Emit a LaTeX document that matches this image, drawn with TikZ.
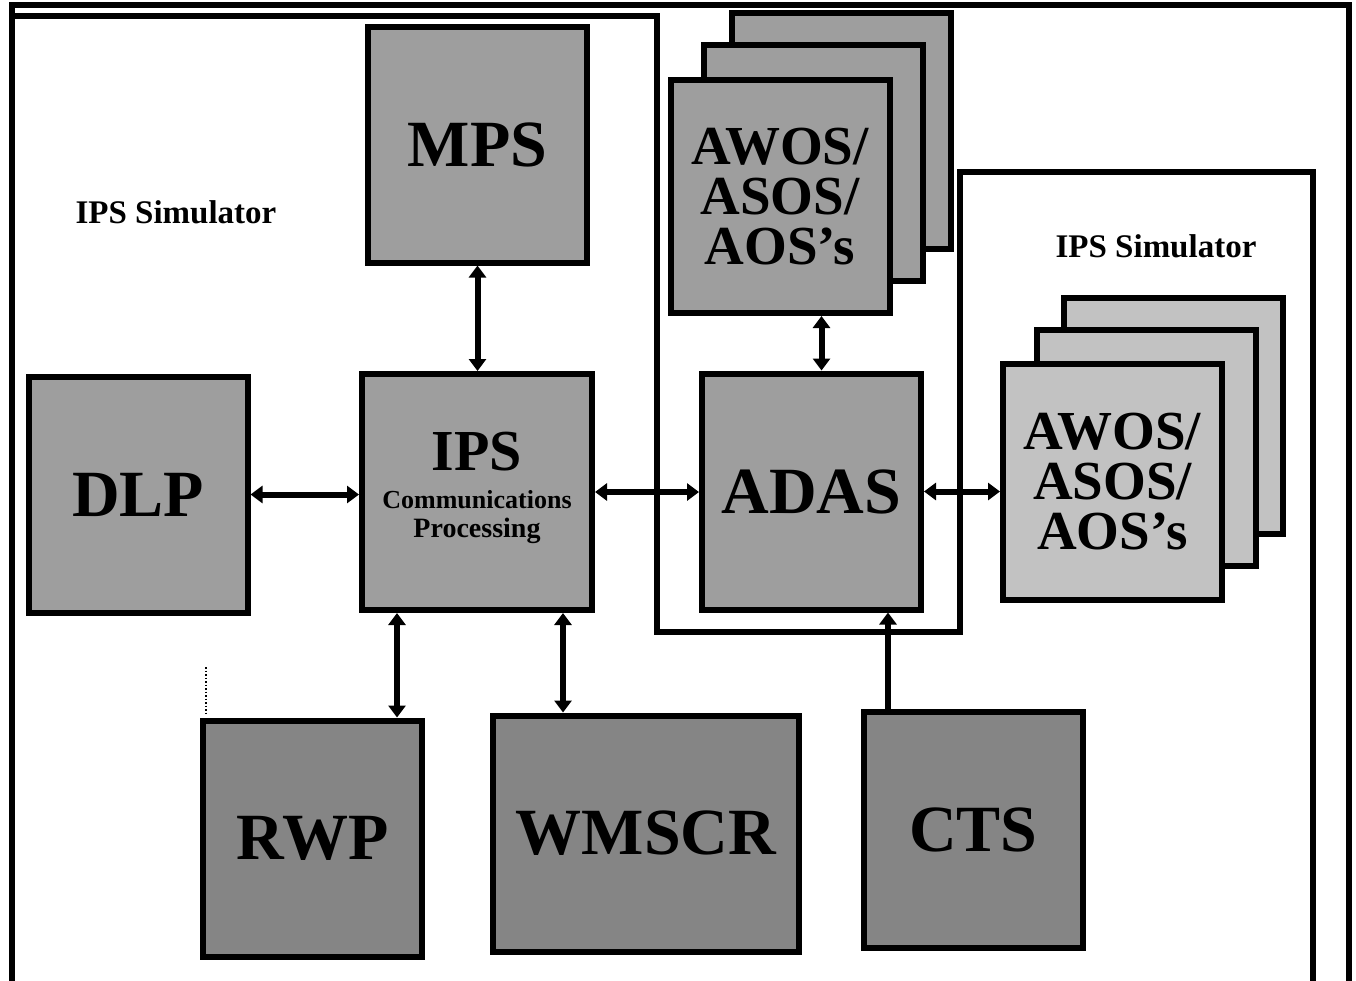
\documentclass[tikz,border=0pt]{standalone}
\usepackage{fontspec}
\setmainfont{Liberation Serif}
\usetikzlibrary{arrows.meta,calc}
\definecolor{midgray}{gray}{0.62}
\definecolor{darkgraybox}{gray}{0.52}
\definecolor{lightgraybox}{gray}{0.76}
\tikzset{
  blk/.style={draw=black, line width=6pt, inner sep=0pt, outer sep=3pt,
    minimum width=219pt, minimum height=236pt,
    font=\bfseries\fontsize{66}{66}\selectfont, align=center},
  midbox/.style={blk, fill=midgray},
  darkbox/.style={blk, fill=darkgraybox},
  lightbox/.style={blk, fill=lightgraybox},
  stacktext/.style={font=\bfseries\fontsize{55}{50}\selectfont},
  conn/.style={line width=6pt, {Triangle[length=12pt,width=17pt]}-{Triangle[length=12pt,width=17pt]}},
  conn1/.style={line width=6pt, -{Triangle[length=12pt,width=17pt]}},
  frameline/.style={line width=5.5pt, line join=miter},
  caption/.style={font=\bfseries\fontsize{33}{36}\selectfont, inner sep=0pt}
}
\begin{document}
\begin{tikzpicture}[x=1pt,y=-1pt]
\useasboundingbox (0,0) rectangle (1356,980);
\clip (0,0) rectangle (1356,980);
\fill[white] (0,0) rectangle (1356,980);
% frames
\draw[frameline] (12,5) rectangle (1349,1010);
\draw[frameline] (12,16) -- (657,16) -- (657,632) -- (960,632) -- (960,172) -- (1313,172) -- (1313,1010);
% captions
\node[caption] (capL) at (176,212) {IPS Simulator};
\node[caption] (capR) at (1156,246) {IPS Simulator};
% top row
\node[midbox] (mps) at (477.5,144.5) {MPS};
\node[midbox] (awt3) at (841,131) {};
\node[midbox] (awt2) at (813.5,162.5) {};
\node[midbox, stacktext, minimum height=233pt] (awt1) at (780,196.5) {AWOS/\\ASOS/\\AOS's};
\node[midbox] (dlp) at (138,494.5) {DLP};
\node[midbox, minimum width=230pt] (ips) at (477,492) {};
\node[font=\bfseries\fontsize{58}{58}\selectfont, anchor=base] (ipsA) at ($(ips.center)+(0,-22)$) {IPS};
\node[font=\bfseries\fontsize{26}{26}\selectfont, anchor=base] (ipsB) at ($(ips.center)+(0,16)$) {Communications};
\node[font=\bfseries\fontsize{28}{28}\selectfont, anchor=base] (ipsC) at ($(ips.center)+(0,45)$) {Processing};
\node[midbox] (adas) at (811.5,491.5) {ADAS};
% right stack
\node[lightbox] (awr3) at (1173.5,415.5) {};
\node[lightbox] (awr2) at (1146.5,447.5) {};
\node[lightbox, stacktext] (awr1) at (1112.5,481.5) {AWOS/\\ASOS/\\AOS's};
% bottom row
\node[darkbox] (rwp) at (312.5,838.5) {RWP};
\node[darkbox, minimum width=306pt] (wms) at (646,833.5) {WMSCR};
\node[darkbox] (cts) at (973.5,830) {CTS};
% connectors
\draw[conn] (dlp.east) -- (dlp.east -| ips.west);
\draw[conn] (ips.east) -- (ips.east -| adas.west);
\draw[conn] (adas.east) -- (adas.east -| awr1.west);
\draw[conn] (mps.south) -- (mps.south |- ips.north);
\draw[conn] ($(adas.north)+(10,0)$) coordinate (a1) -- (a1 |- awt1.south);
\draw[conn] ($(ips.south west)+(38,0)$) coordinate (a2) -- (a2 |- rwp.north);
\draw[conn] ($(ips.south east)+(-32,0)$) coordinate (a3) -- (a3 |- wms.north);
\draw[conn1] ($(cts.north west)+(27,0)$) coordinate (a4) -- (a4 |- adas.south);
% dotted mark
\draw[dotted, line width=1.5pt] (206,667) -- (206,715);
\end{tikzpicture}
\end{document}
